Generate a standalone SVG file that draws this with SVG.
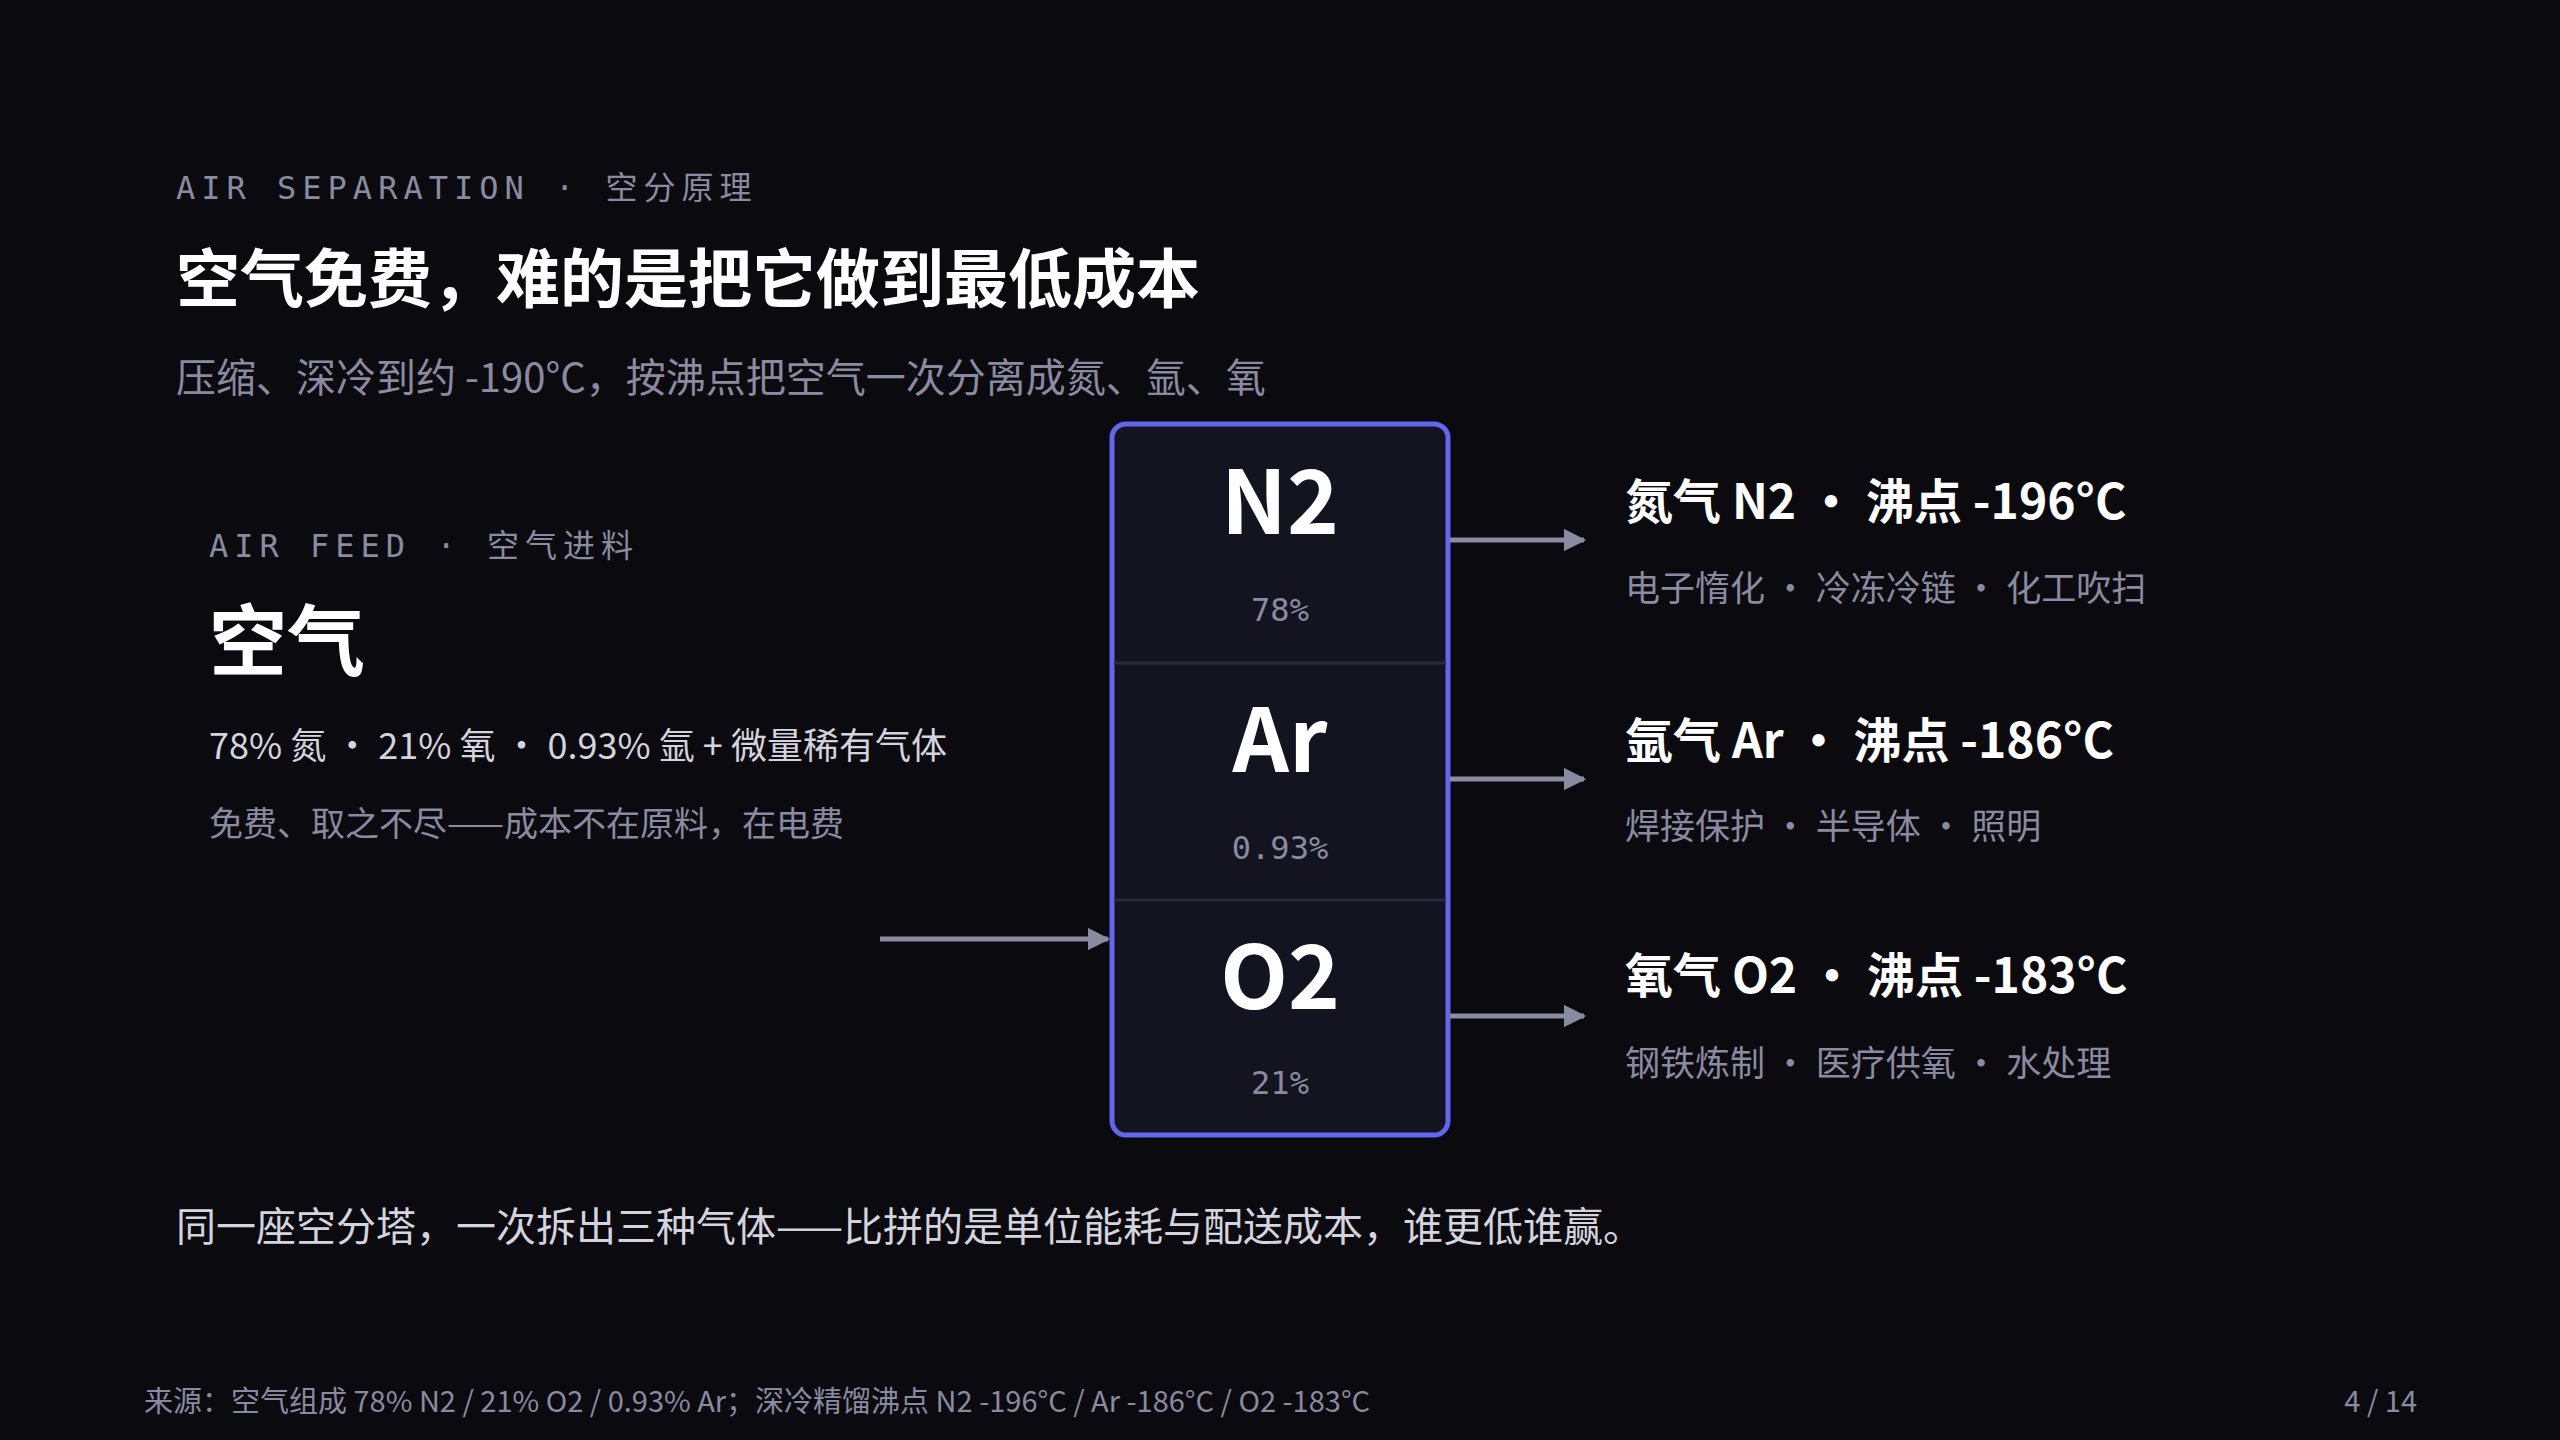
<svg xmlns="http://www.w3.org/2000/svg" width="2560" height="1440" viewBox="0 0 2560 1440">
<defs>
<style>
.sans{font-family:"Noto Sans CJK SC","Noto Sans",sans-serif}
.mono{font-family:"DejaVu Sans Mono","Liberation Mono","Noto Sans CJK SC",monospace}
.eyebrow{font-size:32px;fill:#8a8aa0;letter-spacing:6px}
.gray{fill:#8a8aa0}
.light{fill:#d4d4de}
.white{fill:#ffffff}
.conn{stroke:#8a8aa0;stroke-width:5;fill:none}
</style>
<marker id="ah" viewBox="0 0 10 10" refX="9" refY="5" markerWidth="4.5" markerHeight="4.5" orient="auto" markerUnits="strokeWidth">
<path d="M0,0 L10,5 L0,10 z" fill="#8a8aa0"/>
</marker>
</defs>
<rect width="2560" height="1440" fill="#0a0a0f"/>
<g id="header">
<text class="mono eyebrow" x="176" y="199">AIR SEPARATION · <tspan class="sans">空分原理</tspan></text>
<text class="sans white" x="176" y="302" font-size="64" font-weight="700">空气免费，难的是把它做到最低成本</text>
<text class="sans gray" x="176" y="392" font-size="40">压缩、深冷到约 -190°C，按沸点把空气一次分离成氮、氩、氧</text>
</g>
<g id="air-feed">
<text class="mono eyebrow" x="209" y="557">AIR FEED · <tspan class="sans">空气进料</tspan></text>
<text class="sans white" x="209" y="670" font-size="78" font-weight="700">空气</text>
<text class="sans light" x="209" y="759" font-size="36">78% 氮 · 21% 氧 · 0.93% 氩 + 微量稀有气体</text>
<text class="sans gray" x="209" y="836" font-size="34">免费、取之不尽——成本不在原料，在电费</text>
</g>
<g id="column">
<rect x="1112" y="424" width="336" height="711" rx="14" fill="#13141f" stroke="#6366f1" stroke-width="5"/>
<line x1="1114" y1="663" x2="1446" y2="663" stroke="#2a2b3a" stroke-width="3"/>
<line x1="1114" y1="900" x2="1446" y2="900" stroke="#2a2b3a" stroke-width="3"/>
</g>
<g id="n2-stage">
<text class="sans white" x="1280" y="534" font-size="88" font-weight="700" text-anchor="middle">N2</text>
<text class="mono gray" x="1280" y="621" font-size="32" text-anchor="middle">78%</text>
</g>
<g id="ar-stage">
<text class="sans white" x="1280" y="772" font-size="88" font-weight="700" text-anchor="middle">Ar</text>
<text class="mono gray" x="1280" y="859" font-size="32" text-anchor="middle">0.93%</text>
</g>
<g id="o2-stage">
<text class="sans white" x="1280" y="1009" font-size="88" font-weight="700" text-anchor="middle">O2</text>
<text class="mono gray" x="1280" y="1094" font-size="32" text-anchor="middle">21%</text>
</g>
<g id="n2-out">
<text class="sans white" x="1625" y="519" font-size="48" font-weight="700">氮气 N2 · 沸点 -196°C</text>
<text class="sans gray" x="1625" y="601" font-size="35">电子惰化 · 冷冻冷链 · 化工吹扫</text>
</g>
<g id="ar-out">
<text class="sans white" x="1625" y="758" font-size="48" font-weight="700">氩气 Ar · 沸点 -186°C</text>
<text class="sans gray" x="1625" y="839" font-size="35">焊接保护 · 半导体 · 照明</text>
</g>
<g id="o2-out">
<text class="sans white" x="1625" y="993" font-size="48" font-weight="700">氧气 O2 · 沸点 -183°C</text>
<text class="sans gray" x="1625" y="1076" font-size="35">钢铁炼制 · 医疗供氧 · 水处理</text>
</g>
<g id="connectors">
<line class="conn" x1="880" y1="939" x2="1108" y2="939" marker-end="url(#ah)"/>
<line class="conn" x1="1450" y1="540" x2="1584" y2="540" marker-end="url(#ah)"/>
<line class="conn" x1="1450" y1="779" x2="1584" y2="779" marker-end="url(#ah)"/>
<line class="conn" x1="1450" y1="1016" x2="1584" y2="1016" marker-end="url(#ah)"/>
</g>
<g id="footer">
<text class="sans light" x="176" y="1241" font-size="40">同一座空分塔，一次拆出三种气体——比拼的是单位能耗与配送成本，谁更低谁赢。</text>
<text class="sans gray" x="144" y="1412" font-size="29">来源：空气组成 78% N2 / 21% O2 / 0.93% Ar；深冷精馏沸点 N2 -196°C / Ar -186°C / O2 -183°C</text>
<text class="sans gray" x="2417" y="1412" font-size="29" text-anchor="end">4 / 14</text>
</g>
</svg>
